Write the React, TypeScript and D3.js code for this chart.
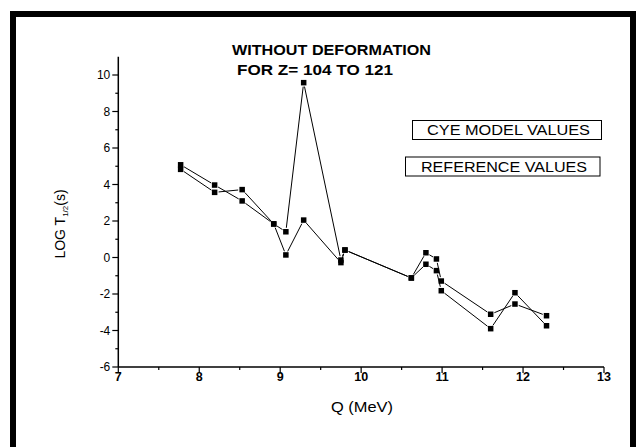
import React from 'react';
import { scaleLinear, range } from 'd3';

// Q values (MeV) and log half-lives
const qValues = [7.77, 8.19, 8.53, 8.92, 9.07, 9.29, 9.75, 9.8, 10.62, 10.8, 10.93, 10.99, 11.6, 11.9, 12.29];
const cyeValues = [5.08, 3.97, 3.1, 1.84, 1.41, 9.58, -0.14, 0.41, -1.12, 0.26, -0.08, -1.29, -3.11, -2.55, -3.19];
const refValues = [4.83, 3.57, 3.72, 1.84, 0.14, 2.05, -0.28, 0.41, -1.12, -0.37, -0.72, -1.82, -3.9, -1.93, -3.74];

const xTicks = [7, 8, 9, 10, 11, 12, 13];
const yTicks = [-6, -4, -2, 0, 2, 4, 6, 8, 10];
const legendLabels = ['CYE MODEL VALUES', 'REFERENCE VALUES'];

const W = 638;
const H = 447;
const font = 'Arial, "Liberation Sans", sans-serif';

export default function App() {
  const x = scaleLinear().domain([7, 13]).range([118.3, 604]);
  const y = scaleLinear().domain([-6, 11]).range([367, 56.75]);
  const x0 = x(7);
  const y0 = y(-6);

  // origin style: line segments stop short of the markers
  const segs = (vals: number[]) =>
    vals.slice(1).map((v, i) => {
      const ax = x(qValues[i]), ay = y(vals[i]);
      const bx = x(qValues[i + 1]), by = y(v);
      const len = Math.hypot(bx - ax, by - ay);
      const g = len > 9 ? 4 : len / 2 - 0.5;
      const ux = (bx - ax) / len, uy = (by - ay) / len;
      return { x1: ax + ux * g, y1: ay + uy * g, x2: bx - ux * g, y2: by - uy * g };
    });

  const series = [cyeValues, refValues];

  return (
    <svg width={W} height={H} style={{ position: 'absolute', left: 0, top: 0, background: '#fff' }}>
      <rect x={0} y={0} width={W} height={H} fill="#fff" />
      <rect x={13} y={14} width={620} height={500} fill="none" stroke="#000" strokeWidth={6} />

      {/* title */}
      <text x={232} y={55} fontFamily={font} fontWeight="bold" fontSize={14} textLength={199} lengthAdjust="spacingAndGlyphs">
        WITHOUT DEFORMATION
      </text>
      <text x={237} y={75} fontFamily={font} fontWeight="bold" fontSize={14} textLength={156} lengthAdjust="spacingAndGlyphs">
        FOR Z= 104 TO 121
      </text>

      {/* axes */}
      <line x1={x0} y1={y(11)} x2={x0} y2={y0} stroke="#000" strokeWidth={1.5} />
      <line x1={x0} y1={y0} x2={x(13)} y2={y0} stroke="#000" strokeWidth={1.5} />
      {yTicks.map((t) => (
        <g key={'yt' + t}>
          <line x1={x0 - 6} x2={x0} y1={y(t)} y2={y(t)} stroke="#000" strokeWidth={1.2} />
          <text x={x0 - 8} y={y(t) + 4} textAnchor="end" fontFamily={font} fontSize={12}>
            {t}
          </text>
        </g>
      ))}
      {range(-5, 10, 2).map((t) => (
        <line key={'ym' + t} x1={x0 - 3} x2={x0} y1={y(t)} y2={y(t)} stroke="#000" strokeWidth={1.2} />
      ))}
      {xTicks.map((t) => (
        <g key={'xt' + t}>
          <line x1={x(t)} x2={x(t)} y1={y0} y2={y0 + 6} stroke="#000" strokeWidth={1.2} />
          <text x={x(t)} y={y0 + 13.5} textAnchor="middle" fontFamily={font} fontWeight="bold" fontSize={12.5}>
            {t}
          </text>
        </g>
      ))}
      {range(7.5, 13, 1).map((t) => (
        <line key={'xm' + t} x1={x(t)} x2={x(t)} y1={y0} y2={y0 + 3} stroke="#000" strokeWidth={1.2} />
      ))}

      <text x={362} y={412} textAnchor="middle" fontFamily={font} fontSize={14} textLength={62} lengthAdjust="spacingAndGlyphs">
        Q (MeV)
      </text>
      <text transform="translate(65,224) rotate(-90)" textAnchor="middle" fontFamily={font} fontSize={14}>
        LOG T<tspan fontSize={8} dy={3}>1/2</tspan>
        <tspan dy={-3}>(s)</tspan>
      </text>

      {/* data */}
      {series.map((vals, si) => (
        <g key={'s' + si}>
          {segs(vals).map((s, i) => (
            <line key={i} {...s} stroke="#000" strokeWidth={1} />
          ))}
          {vals.map((v, i) => (
            <rect key={'p' + i} x={x(qValues[i]) - 2.75} y={y(v) - 2.75} width={5.5} height={5.5} fill="#000" />
          ))}
        </g>
      ))}

      {/* legend boxes */}
      <rect x={412.5} y={120.5} width={189} height={19} fill="none" stroke="#000" strokeWidth={1} />
      <text x={427} y={135} fontFamily={font} fontSize={14} textLength={163} lengthAdjust="spacingAndGlyphs">
        {legendLabels[0]}
      </text>
      <rect x={405.5} y={157} width={194.5} height={19} fill="none" stroke="#000" strokeWidth={1} />
      <text x={421} y={171.5} fontFamily={font} fontSize={14} textLength={166} lengthAdjust="spacingAndGlyphs">
        {legendLabels[1]}
      </text>
    </svg>
  );
}
